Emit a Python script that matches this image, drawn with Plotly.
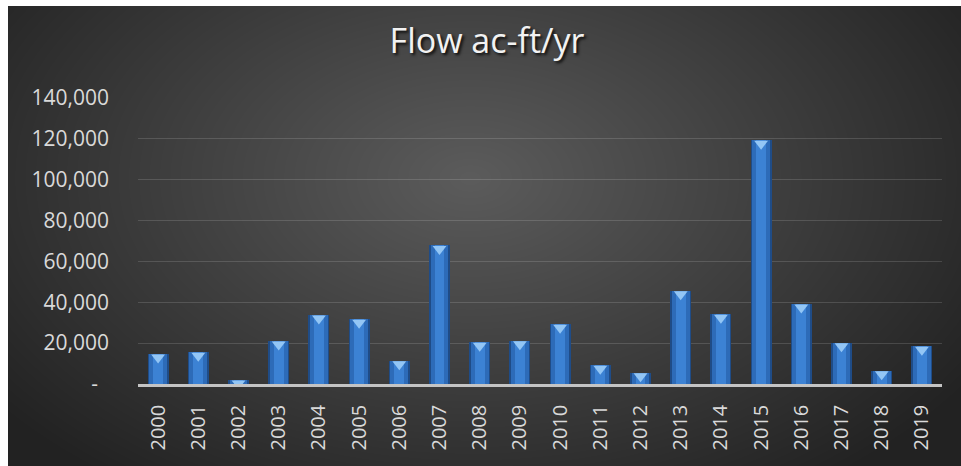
import base64, struct, zlib
import numpy as np
import plotly.graph_objects as go

# ---- data ----
years = [str(y) for y in range(2000, 2020)]
flow = [14700, 15500, 2000, 21000, 33800, 31700, 11400, 67800, 20400, 21200,
        29300, 9200, 5500, 45600, 34200, 119300, 39200, 20200, 6500, 18500]
ytick_vals = [0, 20000, 40000, 60000, 80000, 100000, 120000, 140000]
ytick_text = ["-\u00a0\u00a0", "20,000", "40,000", "60,000", "80,000",
              "100,000", "120,000", "140,000"]
title_text = "Flow ac-ft/yr"

# ---- layout geometry (figure = page coordinates, body margin removed) ----
W, H = 961, 466
L, R, T, B = 138, 19, 98, 82
pw, ph = W - L - R, H - T - B

# ---- background gradient image with thin white top/left border (style only) ----
yy, xx = np.mgrid[0:H, 0:W]
cx, cy = 470, 178
t = np.sqrt(((xx - cx) / 600.0) ** 2 + ((yy - cy) / 380.0) ** 2)
t = np.clip(t, 0, 1)
img = (92 - 58 * t).astype(np.uint8)
img[:6, :] = 255
img[:, :8] = 255


def png_gray(arr):
    h, w = arr.shape
    raw = b"".join(b"\x00" + arr[i].tobytes() for i in range(h))

    def chunk(tag, data):
        c = struct.pack(">I", len(data)) + tag + data
        return c + struct.pack(">I", zlib.crc32(tag + data) & 0xFFFFFFFF)

    return (b"\x89PNG\r\n\x1a\n"
            + chunk(b"IHDR", struct.pack(">IIBBBBB", w, h, 8, 0, 0, 0, 0))
            + chunk(b"IDAT", zlib.compress(raw, 9))
            + chunk(b"IEND", b""))


src = "data:image/png;base64," + base64.b64encode(png_gray(img)).decode()

fig = go.Figure()
# bar body with bevelled look (three overlaid widths)
for wdt, col in [(0.52, "#1f4c87"), (0.44, "#2d6bb8"), (0.24, "#3c82d4")]:
    fig.add_trace(go.Bar(x=years, y=flow, width=wdt, marker=dict(color=col, line=dict(width=0)),
                         hoverinfo="skip", showlegend=False))
# light triangle at top of each bar
fig.add_trace(go.Scatter(x=years, y=flow, mode="markers", showlegend=False, hoverinfo="skip",
                         marker=dict(symbol="triangle-down", angle=0, standoff=3.5, size=12,
                                     color="#93c6f5", line=dict(width=0))))

fig.update_layout(
    width=W, height=H, autosize=False,
    margin=dict(l=L, r=R, t=T, b=B, pad=0),
    paper_bgcolor="#2a2a2a", plot_bgcolor="rgba(0,0,0,0)",
    barmode="overlay", bargap=0,
    title=dict(text=title_text, x=487 / W, xanchor="center", y=1 - 41 / H, yanchor="middle",
               font=dict(family="Open Sans", size=34, color="#f2f2f2",
                         shadow="2px 2px 3px rgba(0,0,0,0.85)")),
    images=[dict(source=src, xref="paper", yref="paper",
                 x=-L / pw, y=1 + T / ph,
                 sizex=W / pw, sizey=H / ph, sizing="stretch",
                 xanchor="left", yanchor="top", layer="below")],
    xaxis=dict(type="category", range=[-0.5, 19.5], tickangle=-90, showgrid=False, ticks="",
               showline=True, linecolor="#c4c4c4", linewidth=2.5,
               tickfont=dict(family="Open Sans", size=20, color="#d9d9d9"),
               ticklabelstandoff=10),
    yaxis=dict(range=[0, 140000], tickvals=ytick_vals, ticktext=ytick_text,
               showgrid=True, gridcolor="rgba(255,255,255,0.14)", gridwidth=1,
               zeroline=False, showline=False, ticks="",
               tickfont=dict(family="Open Sans", size=21, color="#d9d9d9"),
               ticklabelstandoff=28),
)

fig.write_html(
    "out.html",
    config={"displayModeBar": False, "responsive": False},
    post_script=("document.documentElement.style.overflow='hidden';"
                 "document.body.style.margin='0';document.body.style.overflow='hidden';"),
)
